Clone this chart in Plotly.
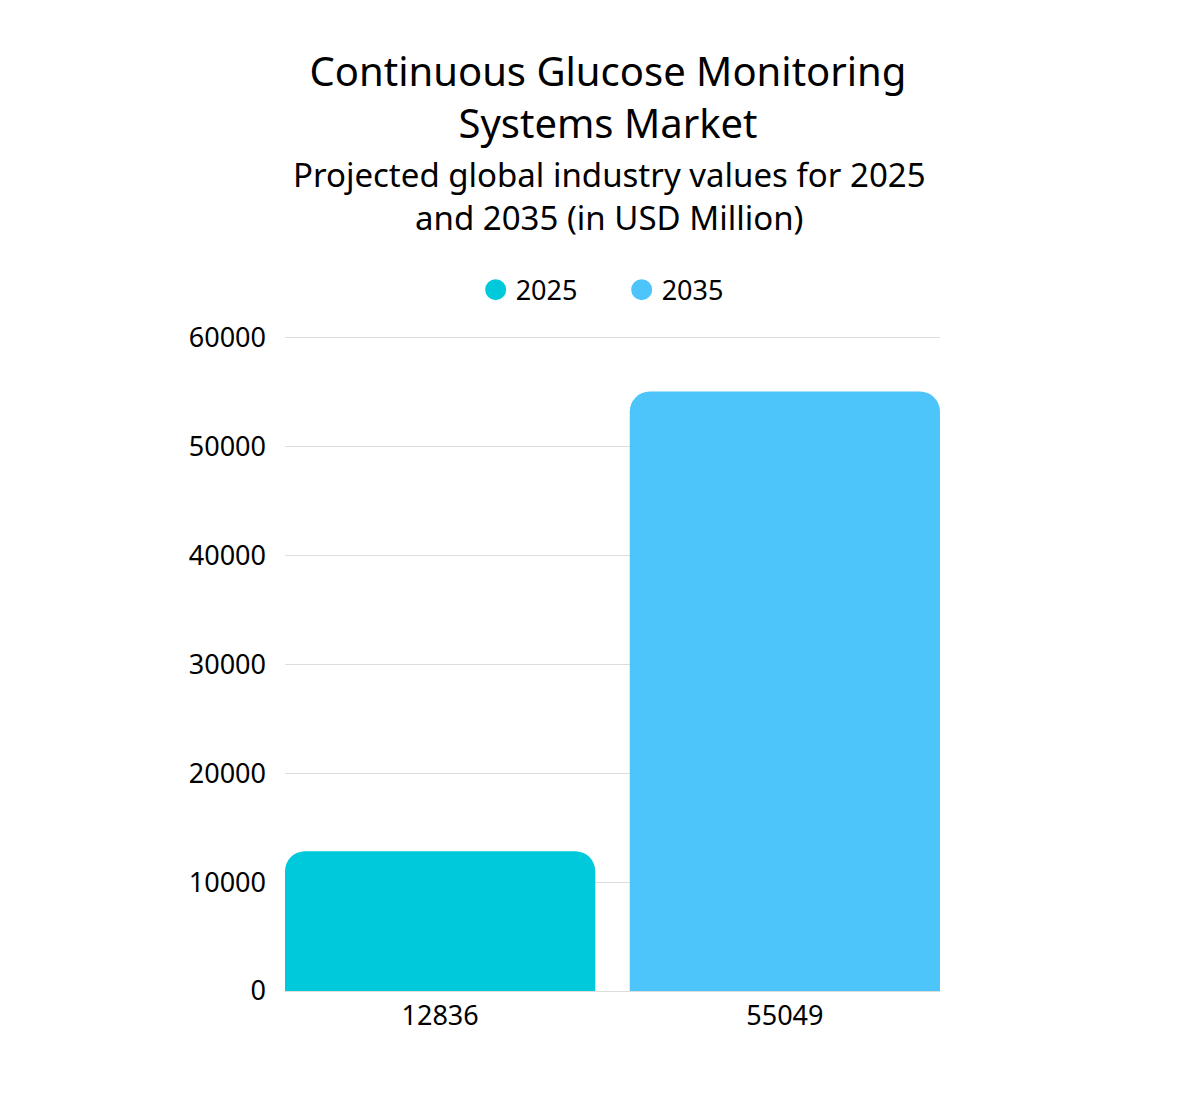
import plotly.graph_objects as go

years = ['2025', '2035']
values = [12836, 55049]
positions = [0, 1]
colors = ['#00C9DB', '#4DC4FA']
y_ticks = [0, 10000, 20000, 30000, 40000, 50000, 60000]

fig = go.Figure()
for pos, yr, val, col in zip(positions, years, values, colors):
    fig.add_trace(go.Bar(
        x=[pos], y=[val], name=yr, width=0.9, showlegend=False,
        marker=dict(color=col, cornerradius=20, line=dict(width=0)),
        hoverinfo='y',
    ))
    # round legend symbols
    fig.add_trace(go.Scatter(
        x=[None], y=[None], name=yr, mode='markers',
        marker=dict(symbol='circle', size=16, color=col, line=dict(color=col, width=5)),
    ))

fig.update_layout(
    width=1200, height=1100,
    font=dict(family='Noto Sans', color='#000000', size=27),
    paper_bgcolor='white', plot_bgcolor='white',
    margin=dict(l=277, r=268, t=328, b=117),
    title=dict(
        text='Continuous Glucose Monitoring<br>Systems Market',
        x=0.5, xanchor='center', xref='container',
        y=1 - 78 / 1100, yanchor='middle', yref='container',
        font=dict(size=40, family='Noto Sans'),
    ),
    showlegend=True,
    legend=dict(
        orientation='h', x=0.514, xanchor='center', y=1.07, yanchor='middle',
        font=dict(size=27), entrywidth=101, entrywidthmode='pixels',
    ),
)

fig.add_annotation(
    text='Projected global industry values for 2025<br>and 2035 (in USD Million)',
    xref='paper', yref='paper', x=0.495, y=1.2145, showarrow=False,
    font=dict(size=33), xanchor='center', yanchor='middle',
)

fig.update_xaxes(
    tickvals=positions, ticktext=[str(v) for v in values],
    range=[-0.45, 1.45], showgrid=False, zeroline=False, showline=False,
    ticks='', ticklabelstandoff=6,
)
fig.update_yaxes(
    range=[0, 60150], tickvals=y_ticks, ticktext=[str(t) for t in y_ticks],
    showgrid=True, gridcolor='#dddddd', gridwidth=1,
    zeroline=True, zerolinecolor='#dddddd', zerolinewidth=1,
    ticks='', ticklabelstandoff=18,
)

fig.write_html('out.html')
